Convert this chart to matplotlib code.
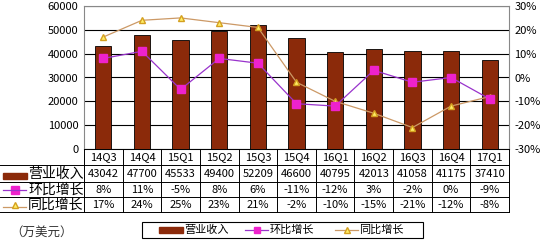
import matplotlib.pyplot as plt
from matplotlib.lines import Line2D
from matplotlib.patches import Rectangle

plt.rcParams['font.family'] = ['Noto Sans CJK SC', 'DejaVu Sans']

quarters = ["14Q3", "14Q4", "15Q1", "15Q2", "15Q3", "15Q4",
            "16Q1", "16Q2", "16Q3", "16Q4", "17Q1"]
revenue = [43042, 47700, 45533, 49400, 52209, 46600,
           40795, 42013, 41058, 41175, 37410]
qoq = [8, 11, -5, 8, 6, -11, -12, 3, -2, 0, -9]
yoy = [17, 24, 25, 23, 21, -2, -10, -15, -21, -12, -8]

BAR = "#8B2A0A"
QOQ_LINE = "#9933CC"
QOQ_MARK = "#EE22CC"
YOY_LINE = "#CC9966"
YOY_MARK = "#FFEE66"

W, H = 542, 245
fig = plt.figure(figsize=(W / 100, H / 100), dpi=100)

x0, x1 = 84, 509
top, bot = 6, 149


def fx(px):
    return px / W


def fy(py):
    return 1 - py / H


ax = fig.add_axes([fx(x0), fy(bot), fx(x1 - x0), fy(top) - fy(bot)])
n = len(quarters)
xs = list(range(n))
ax.bar(xs, revenue, width=0.42, color=BAR, edgecolor="black", linewidth=0.6, zorder=3)
ax.set_xlim(-0.5, n - 0.5)
ax.set_ylim(0, 60000)
ax.set_yticks(range(0, 60001, 10000))
ax.tick_params(axis="y", labelsize=8, length=0, pad=4)
ax.set_xticks([])
ax.grid(axis="y", color="black", linewidth=0.8, zorder=0)
for s in ax.spines.values():
    s.set_color("#888888")
    s.set_linewidth(0.8)

ax2 = ax.twinx()
ax2.plot(xs, qoq, color=QOQ_LINE, linewidth=0.9, marker="s", markersize=6,
         markerfacecolor=QOQ_MARK, markeredgecolor=QOQ_MARK, zorder=5)
ax2.plot(xs, yoy, color=YOY_LINE, linewidth=0.9, marker="^", markersize=5,
         markerfacecolor=YOY_MARK, markeredgecolor="#D4A020", zorder=4)
ax2.set_ylim(-30, 30)
ax2.set_yticks(range(-30, 31, 10))
ax2.set_yticklabels([f"{v}%" for v in range(-30, 31, 10)])
ax2.tick_params(axis="y", labelsize=8, length=0, pad=4)
for s in ax2.spines.values():
    s.set_visible(False)

# data table below the plot
ov = fig.add_axes([0, 0, 1, 1])
ov.set_xlim(0, W)
ov.set_ylim(H, 0)
ov.axis("off")

rows = [149, 165, 182, 197, 212]
colw = (x1 - x0) / n
lc = "black"
ov.plot([x0, x1], [rows[0], rows[0]], color=lc, lw=0.7)
for r in rows[1:]:
    ov.plot([0, x1], [r, r], color=lc, lw=0.7)
for i in range(n + 1):
    ov.plot([x0 + i * colw] * 2, [rows[0], rows[-1]], color=lc, lw=0.7)

fs = 8
for i in range(n):
    cx = x0 + (i + 0.5) * colw
    ov.text(cx, (rows[0] + rows[1]) / 2, quarters[i], ha="center", va="center", fontsize=fs)
    ov.text(cx, (rows[1] + rows[2]) / 2, str(revenue[i]), ha="center", va="center", fontsize=fs)
    ov.text(cx, (rows[2] + rows[3]) / 2, f"{qoq[i]}%", ha="center", va="center", fontsize=fs)
    ov.text(cx, (rows[3] + rows[4]) / 2, f"{yoy[i]}%", ha="center", va="center", fontsize=fs)

# row labels with legend keys
ym = (rows[1] + rows[2]) / 2
ov.add_patch(Rectangle((3, ym - 1), 24, 6, color=BAR))
ov.text(28, ym, "营业收入", ha="left", va="center", fontsize=10)
ym = (rows[2] + rows[3]) / 2
ov.add_line(Line2D([3, 26], [ym, ym], color=QOQ_LINE, lw=0.9, marker="s",
                   markersize=6, markevery=[], zorder=3))
ov.plot([14.5], [ym], marker="s", markersize=6, color=QOQ_MARK)
ov.text(28, ym, "环比增长", ha="left", va="center", fontsize=10)
ym = (rows[3] + rows[4]) / 2
ov.plot([3, 26], [ym + 2, ym + 2], color=YOY_LINE, lw=0.9)
ov.plot([14.5], [ym], marker="^", markersize=5, markerfacecolor=YOY_MARK,
        markeredgecolor="#D4A020")
ov.text(28, ym, "同比增长", ha="left", va="center", fontsize=10)

ov.text(10, 232, "（万美元）", ha="left", va="center", fontsize=9, color="#333333")

# legend box
ov.add_patch(Rectangle((142, 222), 281, 16, fill=False, edgecolor="black", lw=0.8))
ly = 230
ov.add_patch(Rectangle((159, ly - 3), 24, 6, color=BAR))
ov.text(184, ly, "营业收入", ha="left", va="center", fontsize=8)
ov.plot([245, 268], [ly, ly], color=QOQ_LINE, lw=0.9)
ov.plot([256.5], [ly], marker="s", markersize=5, color=QOQ_MARK)
ov.text(270, ly, "环比增长", ha="left", va="center", fontsize=8)
ov.plot([335, 358], [ly, ly], color=YOY_LINE, lw=0.9)
ov.plot([346.5], [ly], marker="^", markersize=5, markerfacecolor=YOY_MARK,
        markeredgecolor="#D4A020")
ov.text(359, ly, "同比增长", ha="left", va="center", fontsize=8)

fig.savefig("out.png", dpi=100)
